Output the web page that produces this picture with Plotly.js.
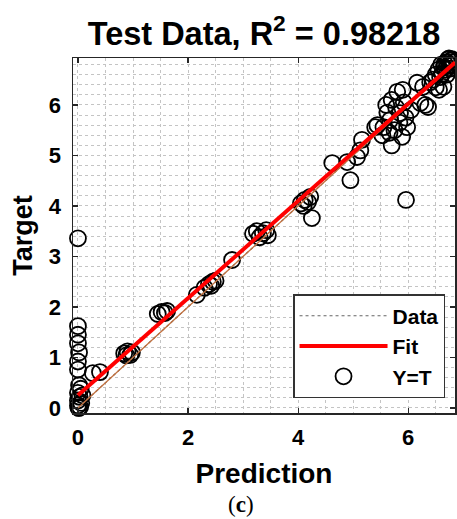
<!DOCTYPE html>
<html>
<head>
<meta charset="utf-8">
<script src="https://cdn.plot.ly/plotly-3.0.1.min.js"></script>
<style>
  html, body { margin: 0; padding: 0; background: #ffffff; }
  #chart { width: 457px; height: 519px; }
</style>
</head>
<body>
<div id="chart"></div>
<script>
// Test-set regression: network prediction vs. target value
const prediction = [
  0.00, 0.00, 0.00, 0.00, 0.02, 0.00, 0.00, 0.02, 0.05, 0.00, 0.03, 0.00, 0.06, 0.00, 0.02, 0.04, 0.08, 0.01,
  0.27, 0.40,
  0.84, 0.90, 0.95, 0.98, 0.88,
  1.45, 1.52, 1.58, 1.62,
  2.16, 2.30, 2.38, 2.45, 2.50, 2.42,
  2.80,
  3.18, 3.25, 3.30, 3.36, 3.42, 3.45,
  4.05, 4.12, 4.18, 4.22, 4.25, 4.10,
  4.62, 4.95, 4.89, 5.07, 5.13, 5.16,
  5.40, 5.44, 5.53, 5.55, 5.60, 5.67, 5.70, 5.70, 5.80, 5.85, 5.89, 5.90, 5.98, 5.75, 5.95, 5.62, 6.05,
  5.78, 5.92, 5.66, 5.84,
  5.96,
  6.16, 6.22, 6.27, 6.36, 6.45, 6.64, 6.56, 6.31,
  6.50, 6.55, 6.60, 6.65, 6.70, 6.72, 6.75, 6.78, 6.80, 6.62, 6.68, 6.58, 6.82, 6.70, 6.76, 6.50, 6.40,
  6.74, 6.80, 6.66, 6.84
];
const target = [
  3.36, 1.62, 1.45, 1.28, 1.10, 0.92, 0.76, 0.45, 0.38, 0.30, 0.22, 0.15, 0.10, 0.05, 0.00, 0.02, 0.25, 0.00,
  0.69, 0.71,
  1.08, 1.12, 1.05, 1.10, 1.04,
  1.86, 1.90, 1.88, 1.92,
  2.24, 2.38, 2.45, 2.50, 2.52, 2.42,
  2.93,
  3.45, 3.50, 3.38, 3.46, 3.52, 3.42,
  4.05, 4.12, 4.08, 4.18, 3.76, 4.00,
  4.85, 4.51, 4.87, 4.97, 5.10, 5.31,
  5.56, 5.60, 5.40, 5.56, 6.00, 5.70, 6.10, 5.20, 6.26, 5.84, 5.37, 6.30, 5.56, 5.50, 5.75, 5.85, 5.90,
  5.95, 6.05, 5.45, 5.65,
  4.12,
  6.44, 6.04, 6.36, 5.96, 6.50, 6.36, 6.30, 6.00,
  6.60, 6.70, 6.80, 6.75, 6.85, 6.90, 6.80, 6.88, 6.90, 6.62, 6.70, 6.55, 6.85, 6.60, 6.72, 6.35, 6.45,
  6.92, 6.78, 6.82, 6.95
];

// Least-squares fit reported for this set
const fitSlope = 0.962;
const fitIntercept = 0.25;
const lineRange = [0, 6.85];

const xTicks = [0, 2, 4, 6];
const yTicks = [0, 1, 2, 3, 4, 5, 6];

const fitY = lineRange.map(v => fitSlope * v + fitIntercept);

const FONT = 'Liberation Sans, Arial, Helvetica, sans-serif';

const traces = [
  {
    name: 'Y=T',
    x: prediction, y: target,
    type: 'scatter', mode: 'markers',
    marker: { symbol: 'circle-open', size: 16, color: '#000000', line: { width: 1.8, color: '#000000' } },
    cliponaxis: false,
    legendrank: 3
  },
  {
    name: 'Data',
    x: lineRange, y: lineRange,
    type: 'scatter', mode: 'lines',
    line: { color: '#666666', width: 1.2, dash: 'dot' },
    legendrank: 1
  },
  {
    name: 'Y=T line',
    x: lineRange, y: lineRange,
    type: 'scatter', mode: 'lines',
    line: { color: '#c2703e', width: 1.3 },
    showlegend: false,
    hoverinfo: 'skip'
  },
  {
    name: 'Fit',
    x: lineRange, y: fitY,
    type: 'scatter', mode: 'lines',
    line: { color: '#ff0000', width: 4 },
    legendrank: 2
  }
];

const gridDash = '3px,3px';
const gridColor = '#c4c4c4';

const layout = {
  width: 457, height: 519,
  margin: { l: 73, r: 2, t: 58, b: 106 },
  paper_bgcolor: '#ffffff', plot_bgcolor: '#ffffff',
  font: { family: FONT, color: '#000000' },
  title: {
    text: 'Test Data, R<sup>2</sup> = 0.98218',
    font: { family: FONT, size: 32.5, weight: 'bold', color: '#000000' },
    x: 0.5, xref: 'paper', xanchor: 'center',
    y: 0.935, yref: 'container', yanchor: 'middle'
  },
  xaxis: {
    range: [-0.09, 6.85],
    tickvals: xTicks, ticktext: xTicks.map(String),
    ticks: 'inside', ticklen: 5, tickwidth: 1.2, tickcolor: '#262626',
    showline: true, linecolor: '#262626', linewidth: 1.5, mirror: 'ticks',
    showgrid: true, gridcolor: gridColor, griddash: gridDash, gridwidth: 1,
    minor: { dtick: 0.5, tick0: 0, showgrid: true, gridcolor: gridColor, griddash: gridDash, gridwidth: 1 },
    zeroline: false,
    ticklabelstandoff: 4,
    tickfont: { family: FONT, size: 22, weight: 'bold', color: '#000000' },
    title: { text: 'Prediction', font: { family: FONT, size: 28, weight: 'bold', color: '#000000' }, standoff: 14 }
  },
  yaxis: {
    range: [-0.1, 6.93],
    tickvals: yTicks, ticktext: yTicks.map(String),
    ticks: 'inside', ticklen: 5, tickwidth: 1.2, tickcolor: '#262626',
    showline: true, linecolor: '#262626', linewidth: 1.5, mirror: 'ticks',
    showgrid: true, gridcolor: gridColor, griddash: gridDash, gridwidth: 1,
    minor: { dtick: 0.2, tick0: 0, showgrid: true, gridcolor: gridColor, griddash: gridDash, gridwidth: 1 },
    zeroline: false,
    ticklabelstandoff: 6,
    tickfont: { family: FONT, size: 22, weight: 'bold', color: '#000000' },
    title: { text: 'Target', font: { family: FONT, size: 27, weight: 'bold', color: '#000000' }, standoff: 8 }
  },
  legend: {
    x: 0.576, xanchor: 'left', xref: 'paper',
    y: 0.335, yanchor: 'top', yref: 'paper',
    bgcolor: '#ffffff', bordercolor: '#333333', borderwidth: 1.5,
    font: { family: FONT, size: 21, weight: 'bold', color: '#000000' },
    itemwidth: 88,
    tracegroupgap: 0
  },
  annotations: [
    {
      text: '(<b>c</b>)',
      xref: 'paper', yref: 'paper',
      x: 0.44, y: -0.258, xanchor: 'center', yanchor: 'middle',
      showarrow: false,
      font: { family: 'Liberation Serif, DejaVu Serif, serif', size: 23, color: '#000000' }
    }
  ],
  showlegend: true
};

Plotly.newPlot('chart', traces, layout, { displayModeBar: false, staticPlot: true });
</script>
</body>
</html>
